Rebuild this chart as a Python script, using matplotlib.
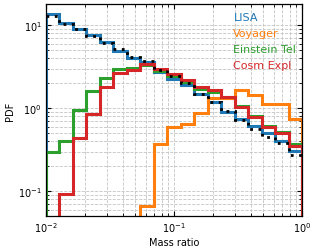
import numpy as np
import matplotlib
matplotlib.use("Agg")
import matplotlib.pyplot as plt

# bin edges: 19 log-spaced bins between 1e-2 and 1
edges = np.logspace(-2, 0, 20)

lisa = [13.6, 10.8, 9.1, 7.6, 6.3, 4.87, 4.1, 3.64, 2.71, 2.29, 1.9, 1.49, 1.2,
        0.91, 0.74, 0.61, 0.50, 0.40, 0.31]
voyager = [0, 0, 0, 0, 0, 0, 0, 0.067, 0.373, 0.59, 0.64, 0.88, 1.33,
           1.33, 1.65, 1.45, 1.13, 1.13, 0.75]
einstein = [0.30, 0.40, 0.95, 1.6, 2.35, 3.0, 3.05, 3.3, 2.85, 2.45, 2.1, 1.72, 1.58,
            1.38, 1.07, 0.80, 0.62, 0.52, 0.37]
cosm = [0, 0.094, 0.445, 0.86, 1.8, 2.7, 2.9, 3.4, 3.0, 2.6, 2.2, 1.8, 1.65,
        1.38, 1.05, 0.79, 0.60, 0.51, 0.35]
theory = [13.0, 10.5, 8.95, 7.4, 6.2, 5.15, 4.18, 3.77, 2.88, 2.47, 2.0, 1.51, 1.2,
          0.93, 0.72, 0.57, 0.45, 0.38, 0.275]

labels = ["LISA", "Voyager", "Einstein Tel", "Cosm Expl"]
colors = ["#1f77b4", "#ff7f0e", "#2ca02c", "#d62728"]

plt.rcParams["mathtext.fontset"] = "cm"
plt.rcParams["font.family"] = ["DejaVu Sans"]

fig = plt.figure(figsize=(3.16, 2.51), dpi=100)
ax = fig.add_axes([0.1456, 0.1343, 0.8101, 0.8447])

for vals, lab, col in zip([lisa, voyager, einstein, cosm], labels, colors):
    ax.stairs(vals, edges, baseline=0, color=col, lw=2.2, label=lab)
ax.stairs(theory, edges, baseline=None, color="black", lw=2.0, ls=(0, (1, 2)), zorder=5)

ax.set_xscale("log")
ax.set_yscale("log")
ax.set_xlim(1e-2, 1)
ax.set_ylim(0.05, 18)

ax.grid(True, which="both", ls="--", lw=0.6, color="#c4c4c4")
ax.set_axisbelow(True)
ax.tick_params(which="both", direction="in", top=True, right=True, labelsize=7)
ax.tick_params(which="major", length=3.5, width=0.8, pad=3)
ax.tick_params(which="minor", length=2, width=0.6)
for sp in ax.spines.values():
    sp.set_linewidth(0.9)

ax.set_xlabel("Mass ratio", fontsize=7, labelpad=2)
ax.set_ylabel("PDF", fontsize=7, labelpad=2)

leg = ax.legend(loc="upper right", bbox_to_anchor=(0.995, 0.985), frameon=False,
                handlelength=0, handletextpad=0, fontsize=8, borderaxespad=0.0,
                labelspacing=0.55)
for h, t, c in zip(leg.legend_handles, leg.get_texts(), colors):
    h.set_visible(False)
    t.set_color(c)

fig.savefig("out.png", dpi=100)
